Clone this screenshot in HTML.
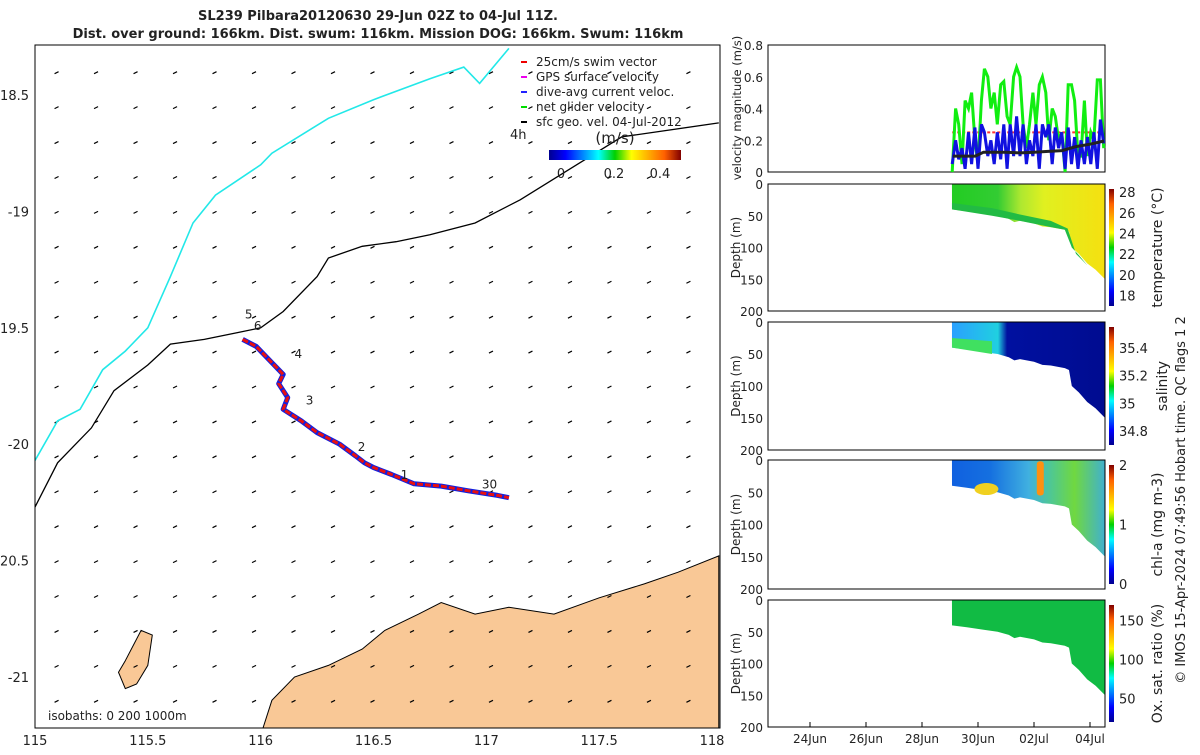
<!DOCTYPE html>
<html><head><meta charset="utf-8"><style>
body{margin:0;background:#fff;font-family:"Liberation Sans","DejaVu Sans",sans-serif;}
svg text{font-family:"DejaVu Sans","Liberation Sans",sans-serif;fill:#222;}
</style></head><body>
<svg id="fig" width="1200" height="750" xmlns="http://www.w3.org/2000/svg">
<defs>
<linearGradient id="jetH" x1="0" x2="1" y1="0" y2="0">
<stop offset="0" stop-color="#00008f"/><stop offset="0.125" stop-color="#0000ff"/><stop offset="0.375" stop-color="#00ffff"/><stop offset="0.5" stop-color="#00d000"/><stop offset="0.625" stop-color="#ffff00"/><stop offset="0.875" stop-color="#ff6000"/><stop offset="1" stop-color="#800000"/></linearGradient>
<linearGradient id="jetV" x1="0" x2="0" y1="1" y2="0">
<stop offset="0" stop-color="#00008f"/><stop offset="0.125" stop-color="#0000ff"/><stop offset="0.375" stop-color="#00ffff"/><stop offset="0.5" stop-color="#00d000"/><stop offset="0.625" stop-color="#ffff00"/><stop offset="0.875" stop-color="#ff6000"/><stop offset="1" stop-color="#800000"/></linearGradient>
<linearGradient id="tempG" x1="0" x2="1"><stop offset="0" stop-color="#22cc22"/><stop offset="0.3" stop-color="#33cc33"/><stop offset="0.45" stop-color="#aee830"/><stop offset="0.6" stop-color="#e0f020"/><stop offset="1" stop-color="#f5e010"/></linearGradient>
<linearGradient id="salG" x1="0" x2="1"><stop offset="0" stop-color="#2aa0ff"/><stop offset="0.3" stop-color="#20d0e0"/><stop offset="0.36" stop-color="#0010a0"/><stop offset="1" stop-color="#000c90"/></linearGradient>
<linearGradient id="chlG" x1="0" x2="1"><stop offset="0" stop-color="#1060e0"/><stop offset="0.25" stop-color="#1570e0"/><stop offset="0.5" stop-color="#40b0e0"/><stop offset="0.65" stop-color="#50c890"/><stop offset="0.8" stop-color="#70d840"/><stop offset="1" stop-color="#40b0d0"/></linearGradient>
</defs>
<g id="map"></g>
<g id="right"></g>
</svg>
<script>
const NS="http://www.w3.org/2000/svg";
function el(tag,attrs,parent,txt){const e=document.createElementNS(NS,tag);for(const k in attrs)e.setAttribute(k,attrs[k]);if(txt!==undefined)e.textContent=txt;parent.appendChild(e);return e;}
const map=document.getElementById('map'), right=document.getElementById('right');

// ---------- MAP DATA ----------
const lonTicks=[115,115.5,116,116.5,117,117.5,118];
const latTicks=[-18.5,-19,-19.5,-20,-20.5,-21];
const latLabels=["18.5","-19","19.5","-20","20.5","-21"];
const trackLon=[115.92,115.98,116.05,116.1,116.08,116.12,116.1,116.18,116.25,116.35,116.42,116.46,116.5,116.58,116.68,116.8,116.92,117.05,117.1];
const trackLat=[-19.55,-19.58,-19.65,-19.7,-19.74,-19.8,-19.85,-19.9,-19.95,-20.0,-20.05,-20.08,-20.1,-20.13,-20.17,-20.18,-20.2,-20.22,-20.23];
const cyanLon=[115,115.1,115.2,115.3,115.4,115.5,115.6,115.7,115.8,116.0,116.05,116.3,116.5,116.75,116.9,116.97,117.1];
const cyanLat=[-20.07,-19.9,-19.85,-19.68,-19.6,-19.5,-19.28,-19.05,-18.93,-18.8,-18.75,-18.6,-18.52,-18.43,-18.38,-18.45,-18.3];
const blkLon=[115,115.1,115.25,115.35,115.5,115.6,115.75,115.9,116.0,116.1,116.25,116.3,116.45,116.6,116.75,116.95,117.15,117.4,117.6,118.03];
const blkLat=[-20.27,-20.08,-19.93,-19.77,-19.66,-19.57,-19.55,-19.52,-19.5,-19.43,-19.28,-19.2,-19.15,-19.13,-19.1,-19.05,-18.95,-18.8,-18.68,-18.62];
const landLon=[116.0,116.05,116.15,116.3,116.45,116.55,116.7,116.8,116.95,117.1,117.3,117.5,117.7,117.85,118.03,118.03];
const landLat=[-21.25,-21.1,-21.0,-20.95,-20.88,-20.8,-20.73,-20.68,-20.73,-20.7,-20.73,-20.66,-20.6,-20.55,-20.48,-21.25];
const islandLon=[115.4,115.47,115.52,115.5,115.45,115.4,115.37];
const islandLat=[-20.93,-20.8,-20.82,-20.95,-21.03,-21.05,-20.98];
const trackMarks=["1","2","3","4","5","6","30"];
const markLon=[116.62,116.43,116.2,116.15,115.93,115.97,116.98];
const markLat=[-20.15,-20.03,-19.83,-19.63,-19.46,-19.51,-20.19];

const mx=v=>35+(v-115)*(712-35)/3;
const my=v=>95+(-v-18.5)*(677-95)/2.5;
const MAPL=35,MAPR=720,MAPT=45,MAPB=728;
const poly=(lo,la)=>lo.map((v,i)=>mx(v).toFixed(1)+","+my(la[i]).toFixed(1)).join(" ");

let r=el('rect',{x:MAPL,y:MAPT,width:MAPR-MAPL,height:MAPB-MAPT,fill:'#fff'},map);

const cp=el('clipPath',{id:'mapclip'},document.querySelector('defs'));el('rect',{x:MAPL,y:MAPT,width:MAPR-MAPL,height:MAPB-MAPT},cp);
const mg=el('g',{'clip-path':'url(#mapclip)'},map);
let land=el('polygon',{points:poly(landLon,landLat),fill:'#f9c896',stroke:'#000','stroke-width':1},mg);

let isl=el('polygon',{points:poly(islandLon,islandLat),fill:'#f9c896',stroke:'#000','stroke-width':1},mg);

for(let lo=115.1;lo<118;lo+=0.175){for(let la=-18.4;la>-21.3;la-=0.15){
 const x=mx(lo),y=my(la);
 const a=el('line',{x1:x-3,y1:y+2,x2:x+1,y2:y,stroke:'#000','stroke-width':1.2},mg);
 
}}
let cy=el('polyline',{points:poly(cyanLon,cyanLat),fill:'none',stroke:'#22e8e8','stroke-width':1.6},mg);

let bk=el('polyline',{points:poly(blkLon,blkLat),fill:'none',stroke:'#000','stroke-width':1.3},mg);

let tb=el('polyline',{points:poly(trackLon,trackLat),fill:'none',stroke:'#1020e0','stroke-width':5,'stroke-linejoin':'round'},mg);

let tr=el('polyline',{points:poly(trackLon,trackLat),fill:'none',stroke:'#e81010','stroke-width':3,'stroke-dasharray':'6 2'},mg);

trackMarks.forEach((t,i)=>{const tx=el('text',{x:mx(markLon[i]),y:my(markLat[i]),'font-size':12},mg,t);
 });
let fr=el('rect',{x:MAPL,y:MAPT,width:MAPR-MAPL,height:MAPB-MAPT,fill:'none',stroke:'#000','stroke-width':1},map);

lonTicks.forEach(v=>{const t=el('text',{x:mx(v),y:745,'font-size':13,'text-anchor':'middle'},map,String(v));
 });
latTicks.forEach((v,i)=>{const t=el('text',{x:29,y:my(v)+5,'font-size':13,'text-anchor':'end'},map,latLabels[i]);
 });
let t1=el('text',{x:378,y:20,'font-size':13,'font-weight':'bold','text-anchor':'middle'},map,'SL239 Pilbara20120630 29-Jun 02Z to 04-Jul 11Z.');

let t2=el('text',{x:378,y:38,'font-size':13,'font-weight':'bold','text-anchor':'middle'},map,'Dist. over ground: 166km. Dist. swum: 116km. Mission DOG: 166km. Swum: 116km');

let iso=el('text',{x:48,y:720,'font-size':12},map,'isobaths: 0   200  1000m');

const legNames=["25cm/s swim vector","GPS surface velocity","dive-avg current veloc.","net glider velocity","sfc geo. vel. 04-Jul-2012"];
const legCols=["#e00","#e0e","#22f","#0d0","#000"];
legNames.forEach((n,i)=>{const y=62+i*15;
 const l=el('line',{x1:521,y1:y,x2:527,y2:y,stroke:legCols[i],'stroke-width':2},map);
 
 const t=el('text',{x:536,y:y+4,'font-size':12},map,n);
 });
let h4=el('text',{x:510,y:139,'font-size':13},map,'4h');
let ms=el('text',{x:615,y:143,'font-size':15,'text-anchor':'middle'},map,'(m/s)');
let cb=el('rect',{x:549,y:150,width:132,height:10,fill:'url(#jetH)'},map);
[["0",561],["0.2",614],["0.4",660]].forEach(a=>{const t=el('text',{x:a[1],y:178,'font-size':13,'text-anchor':'middle'},map,a[0]);
 });

// ---------- TIME SERIES DATA ----------
const dayTicks=[24,26,28,30,32,34];
const dayLabels=["24Jun","26Jun","28Jun","30Jun","02Jul","04Jul"];
const velT=[29.08,29.20,29.31,29.43,29.54,29.66,29.77,29.89,30.00,30.12,30.23,30.35,30.46,30.58,30.69,30.81,30.92,31.04,31.15,31.27,31.38,31.50,31.61,31.73,31.84,31.96,32.07,32.19,32.30,32.42,32.53,32.65,32.76,32.88,32.99,33.11,33.22,33.34,33.45,33.57,33.68,33.80,33.91,34.03,34.14,34.26,34.37,34.49];
const netVel=[0.0,0.4,0.3,0.05,0.45,0.4,0.5,0.2,0.05,0.45,0.65,0.6,0.4,0.5,0.3,0.55,0.57,0.35,0.3,0.6,0.66,0.6,0.3,0.15,0.3,0.5,0.3,0.55,0.6,0.5,0.2,0.4,0.35,0.2,0.25,0.0,0.55,0.55,0.45,0.1,0.1,0.45,0.1,0.25,0.2,0.58,0.58,0.15];
const curVel=[0.05,0.2,0.08,0.15,0.02,0.25,0.05,0.28,0.02,0.3,0.25,0.1,0.2,0.05,0.25,0.08,0.3,0.02,0.3,0.1,0.35,0.1,0.3,0.05,0.2,0.1,0.3,0.02,0.3,0.22,0.3,0.05,0.28,0.15,0.25,0.02,0.28,0.05,0.22,0.02,0.2,0.05,0.22,0.05,0.25,0.02,0.33,0.18];
const geoT=[29.1,29.6,29.9,30.2,31.0,31.5,32.0,32.5,33.0,33.5,34.0,34.5];
const geoVel=[0.1,0.1,0.1,0.125,0.125,0.12,0.125,0.13,0.135,0.16,0.175,0.195];
const swimVel=0.25;
const botT=[29.07,29.6,30.2,30.7,31.1,31.3,31.5,32.0,32.3,32.6,33.1,33.25,33.35,33.6,33.9,34.2,34.54];
const botD=[40,43,47,50,55,60,58,62,67,68,72,75,100,110,125,135,150];
const prof=[{lo:184,hi:311,fill:'url(#tempG)',name:'temperature',cbT:['28','26','24','22','20','18'],cbV:[28,26,24,22,20,18],min:17,max:28.3,lab:'temperature (°C)'},
 {lo:322,hi:450,fill:'url(#salG)',name:'salinity',cbT:['35.4','35.2','35','34.8'],cbV:[35.4,35.2,35,34.8],min:34.7,max:35.55,lab:'salinity'},
 {lo:460,hi:589,fill:'url(#chlG)',name:'chl-a',cbT:['2','1','0'],cbV:[2,1,0],min:0,max:2,lab:'chl-a (mg m-3)'},
 {lo:600,hi:727,fill:'#11bb44',name:'oxygen',cbT:['150','100','50'],cbV:[150,100,50],min:20,max:170,lab:'Ox. sat. ratio (%)'}];

const tx=d=>768+(d-22.5)*28;
const PL=768,PR=1105;
const vy=v=>172-v*(172-45)/0.8;
let f=el('rect',{x:PL,y:45,width:PR-PL,height:127,fill:'none',stroke:'#000'},right);

[0,0.2,0.4,0.6,0.8].forEach(v=>{const t=el('text',{x:763,y:vy(v)+5,'font-size':12,'text-anchor':'end'},right,String(v));
 });
let vl=el('text',{x:0,y:0,'font-size':11.5,'text-anchor':'middle',transform:`translate(741,108) rotate(-90)`},right,'velocity magnitude (m/s)');

const ln=(xs,ys)=>xs.map((t,i)=>tx(t).toFixed(1)+","+vy(ys[i]).toFixed(1)).join(" ");
let sw=el('line',{x1:tx(velT[0]),x2:tx(velT[velT.length-1]),y1:vy(swimVel),y2:vy(swimVel),stroke:'#f33','stroke-width':2,'stroke-dasharray':'3 2'},right);

let g1=el('polyline',{points:ln(velT,netVel),fill:'none',stroke:'#11ee11','stroke-width':3},right);

let b1=el('polyline',{points:ln(velT,curVel),fill:'none',stroke:'#1111e0','stroke-width':3},right);

let k1=el('polyline',{points:ln(geoT,geoVel),fill:'none',stroke:'#222','stroke-width':3},right);


prof.forEach((p,k)=>{
 const dy=d=>p.lo+d*(p.hi-p.lo)/200;
 const g=el('g',{},right);
 let pts=tx(botT[0])+","+dy(0)+" "+tx(botT[botT.length-1])+","+dy(0)+" "+botT.slice().reverse().map((t,i)=>tx(t).toFixed(1)+","+dy(botD[botD.length-1-i]).toFixed(1)).join(" ");
 const pg=el('polygon',{points:pts,fill:p.fill},g);
 if(k===0){const q=el('polygon',{points:`${tx(29.07)},${dy(30)} ${tx(30.5)},${dy(38)} ${tx(31.5)},${dy(48)} ${tx(32.6)},${dy(58)} ${tx(33.2)},${dy(70)} ${tx(33.5)},${dy(110)} ${tx(33.9)},${dy(128)} ${tx(33.6)},${dy(112)} ${tx(33.35)},${dy(100)} ${tx(33.1)},${dy(72)} ${tx(32.6)},${dy(68)} ${tx(31.5)},${dy(58)} ${tx(30.5)},${dy(50)} ${tx(29.07)},${dy(40)}`,fill:'#22bb44'},g);
  }
 if(k===1){const q=el('polygon',{points:`${tx(29.07)},${dy(25)} ${tx(30.5)},${dy(30)} ${tx(30.5)},${dy(50)} ${tx(29.07)},${dy(40)}`,fill:'#40e060'},g);
  }
 if(k===2){const q=el('rect',{x:tx(32.1),y:dy(2),width:7,height:(dy(55)-dy(2)),fill:'#ff9010',rx:3},g);
  
  const q2=el('ellipse',{cx:tx(30.3),cy:dy(45),rx:12,ry:6,fill:'#f0d020'},g);}
 const a=el('rect',{x:PL,y:p.lo,width:PR-PL,height:p.hi-p.lo,fill:'none',stroke:'#000'},g);
 
 [0,50,100,150,200].forEach(d=>{const t=el('text',{x:763,y:dy(d)+5,'font-size':12,'text-anchor':'end'},g,String(d));
  });
 const yl=el('text',{x:0,y:0,'font-size':12,'text-anchor':'middle',transform:`translate(740,${(p.lo+p.hi)/2}) rotate(-90)`},g,'Depth (m)');
 
 const cbTop=p.lo+5,cbBot=p.hi-5;
 const cbr=el('rect',{x:1109,y:cbTop,width:5,height:cbBot-cbTop,fill:'url(#jetV)'},g);
 
 p.cbV.forEach((v,i)=>{const y=cbBot-(v-p.min)/(p.max-p.min)*(cbBot-cbTop);
  const t=el('text',{x:1119,y:y+5,'font-size':13},g,p.cbT[i]);});
 const cl=el('text',{x:0,y:0,'font-size':14,'text-anchor':'middle',transform:`translate(${k===1?1167:1162},${(p.lo+p.hi)/2}) rotate(-90)`},g,p.lab);
 
});
dayTicks.forEach((d,i)=>{const x=tx(d);
 const tk=el('line',{x1:x,x2:x,y1:727,y2:722,stroke:'#000'},right);
 const t=el('text',{x:x,y:743,'font-size':12,'text-anchor':'middle'},right,dayLabels[i]);
 });
let cr=el('text',{x:0,y:0,'font-size':13,'text-anchor':'middle',transform:'translate(1185,500) rotate(-90)'},right,'© IMOS 15-Apr-2024 07:49:56 Hobart time. QC flags 1  2');

</script>
</body></html>
